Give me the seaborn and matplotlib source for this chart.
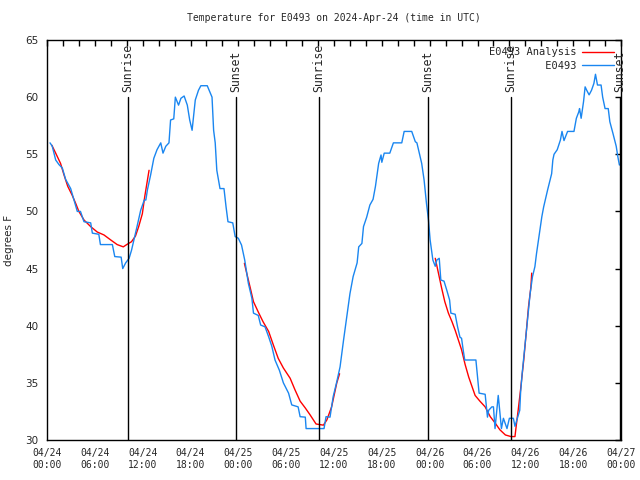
import pandas as pd
import matplotlib
matplotlib.use("Agg")
import matplotlib.pyplot as plt
import matplotlib.dates as mdates
from matplotlib.lines import Line2D
import seaborn as sns

# observed temperature, hours after 2024-04-24 00:00 UTC
obs_hours = [0.38, 0.66, 1.09, 1.5, 1.92, 2.34, 2.97, 3.39, 3.8, 4.2, 4.64, 5.48, 5.69, 6.5, 6.7,
             8.2, 8.5, 9.3, 9.5, 9.87, 10.3, 10.6, 10.9, 11.3, 11.75, 12.2, 12.4, 12.6, 13.0, 13.4,
             13.8, 14.27, 14.55, 14.9, 15.3, 15.5, 15.9, 16.1, 16.5, 16.8, 17.2, 17.6, 17.9, 18.2,
             18.6, 19.0, 19.3, 20.1, 20.7, 20.9, 21.1, 21.3, 21.7, 22.2, 22.46, 22.7, 23.3, 23.6,
             24.0, 24.4, 24.8, 25.26, 25.7, 25.9, 26.5, 26.8, 27.35, 27.8, 28.2, 28.6, 29.15, 29.65,
             30.3, 30.7, 31.5, 31.75, 32.4, 32.5, 34.75, 35.0, 35.5, 35.9, 36.35, 36.76, 37.2, 37.6,
             38.0, 38.4, 38.9, 39.1, 39.5, 39.7, 40.1, 40.5, 40.9, 41.2, 41.6, 41.9, 42.0, 42.3,
             43.0, 43.45, 44.5, 44.8, 45.75, 46.2, 46.4, 46.7, 47.0, 47.3, 47.6, 47.85, 48.06, 48.4,
             48.7, 48.9, 49.2, 49.4, 49.8, 50.15, 50.5, 50.66, 51.2, 51.5, 51.8, 52.0, 52.2, 52.4,
             53.8, 54.0, 54.2, 54.96, 55.25, 55.4, 55.8, 56.0, 56.2, 56.4, 56.6, 56.7, 57.0, 57.25,
             57.7, 58.0, 58.5, 58.7, 59.06, 59.3, 59.4, 59.6, 59.85, 60.1, 60.4, 60.6, 60.9, 61.2,
             61.4, 61.65, 61.85, 62.07, 62.3, 62.5, 62.8, 63.1, 63.3, 63.45, 63.6, 64.0, 64.4, 64.6,
             64.85, 65.3, 66.1, 66.4, 66.7, 66.8, 67.0, 67.3, 67.5, 67.7, 68.0, 68.3, 68.6, 68.8,
             69.05, 69.5, 69.7, 70.0, 70.4, 70.6, 71.0, 71.4, 71.6, 71.8]
obs_temps = [56.0, 55.7, 54.5, 54.1, 53.8, 52.8, 52.0, 51.0, 50.0, 50.0, 49.1, 49.0, 48.1, 48.0, 47.1,
             47.1, 46.05, 46.0, 45.0, 45.5, 45.9, 46.6, 47.5, 48.7, 50.1, 51.0, 51.0, 51.9, 53.2, 54.65,
             55.4, 56.0, 55.1, 55.7, 56.0, 58.0, 58.1, 60.0, 59.3, 59.9, 60.1, 59.3, 58.0, 57.1,
             59.75, 60.6, 61.0, 61.0, 60.0, 57.1, 56.0, 53.6, 52.0, 52.0, 50.4, 49.1, 49.0, 47.8,
             47.65, 47.06, 45.75, 43.7, 42.4, 41.1, 40.9, 40.06, 39.9, 39.04, 38.2, 37.0, 36.1, 35.0,
             34.1, 33.07, 32.9, 32.04, 32.0, 31.0, 31.0, 32.04, 32.0, 33.8, 35.1, 36.4, 38.75, 40.8,
             42.8, 44.3, 45.5, 46.9, 47.2, 48.67, 49.5, 50.56, 51.06, 52.2, 54.2, 54.94, 54.3, 55.1,
             55.1, 56.0, 56.0, 57.0, 57.0, 56.1, 56.0, 55.1, 54.2, 52.75, 50.7, 49.25, 47.5, 45.75,
             45.2, 45.75, 45.9, 44.0, 43.9, 43.1, 42.25, 41.1, 41.0, 39.9, 39.0, 38.9, 37.9, 37.0,
             37.0, 35.5, 34.1, 34.0, 32.0, 32.6, 32.9, 32.9, 31.0, 32.5, 33.9, 33.2, 31.0, 31.9,
             31.0, 31.9, 31.9, 31.2, 32.04, 32.6, 34.1, 35.8, 37.6, 39.3, 41.4, 42.8, 44.3, 45.17,
             46.3, 47.5, 48.5, 49.54, 50.4, 51.0, 51.9, 52.75, 53.3, 54.5, 55.0, 55.4, 56.25, 57.0,
             56.2, 57.0, 57.0, 58.15, 58.7, 59.0, 58.15, 59.6, 60.9, 60.6, 60.2, 60.6, 61.2, 62.0,
             61.06, 61.06, 60.0, 59.0, 59.0, 57.85, 56.8, 55.7, 54.8, 54.06]

# analysis curve, three separate pieces
ana1_hours = [0.6, 1.09, 1.7, 2.13, 2.6, 3.17, 3.6, 4.0, 4.64, 5.48, 6.3, 7.15, 8.0, 8.8, 9.57,
              10.0, 10.6, 11.1, 11.5, 11.96, 12.26, 12.6, 12.8]
ana1_temps = [55.8, 55.1, 54.2, 53.2, 52.2, 51.4, 50.7, 50.0, 49.25, 48.67, 48.2, 47.94, 47.5, 47.1, 46.9,
              47.1, 47.35, 47.85, 48.67, 49.8, 51.3, 52.75, 53.6]
ana2_hours = [24.76, 25.05, 25.5, 25.9, 26.5, 27.1, 27.8, 28.4, 29.0, 29.65, 30.5, 31.1, 31.75, 32.4,
              33.0, 33.75, 34.67, 35.1, 35.7, 36.35, 36.7]
ana2_temps = [45.46, 44.6, 43.3, 42.1, 41.2, 40.35, 39.5, 38.3, 37.15, 36.3, 35.4, 34.4, 33.4, 32.8,
              32.2, 31.4, 31.3, 31.75, 32.9, 35.0, 35.8]
ana3_hours = [48.7, 49.1, 49.5, 49.9, 50.35, 50.8, 51.2, 51.6, 52.0, 52.45, 52.9, 53.3, 53.7, 54.3,
              54.96, 55.6, 56.2, 56.8, 57.5, 58.2, 58.7, 58.85, 59.1, 59.4, 59.8, 60.1, 60.4, 60.7, 60.8]
ana3_temps = [45.9, 44.6, 43.3, 42.1, 41.1, 40.35, 39.6, 38.75, 37.9, 36.6, 35.5, 34.7, 33.9, 33.4,
              32.9, 32.04, 31.5, 30.9, 30.44, 30.3, 30.3, 31.2, 32.6, 34.4, 37.0, 39.3, 41.67, 43.4, 44.6]

sun_hours = [10.16, 23.71, 34.12, 47.79, 58.2, 71.9]
sun_labels = ["Sunrise", "Sunset", "Sunrise", "Sunset", "Sunrise", "Sunset"]

start = pd.Timestamp("2024-04-24 00:00")
to_time = lambda h: start + pd.to_timedelta(h, unit="h")

obs = pd.DataFrame({"time": to_time(obs_hours), "temp": obs_temps})
ana = pd.concat([
    pd.DataFrame({"time": to_time(h), "temp": t, "seg": i})
    for i, (h, t) in enumerate([(ana1_hours, ana1_temps), (ana2_hours, ana2_temps), (ana3_hours, ana3_temps)])
])

sns.set_style("white")
plt.rcParams["font.family"] = ["DejaVu Sans Mono"]
mono = "DejaVu Sans Mono"
blue = "#1a86f0"
red = "#ff0000"

fig = plt.figure(figsize=(6.4, 4.8), dpi=100)
ax = fig.add_axes([47 / 640, 40 / 480, 574 / 640, 400 / 480])

sns.lineplot(data=ana, x="time", y="temp", units="seg", estimator=None, color=red, lw=1, ax=ax)
sns.lineplot(data=obs, x="time", y="temp", color=blue, lw=1, ax=ax)

for h, lab in zip(sun_hours, sun_labels):
    t = to_time(h)
    ax.plot([t, t], [30, 60], color="black", lw=1)
    ax.text(t, 60.45, lab, rotation=90, ha="center", va="bottom", fontsize=8.3, family=mono)

ax.set_xlim(start, to_time(72))
ax.set_ylim(30, 65)
ax.set_yticks(range(30, 66, 5))
ax.xaxis.set_major_locator(mdates.HourLocator(byhour=[0, 6, 12, 18]))
ax.xaxis.set_minor_locator(mdates.HourLocator(interval=2))
ax.xaxis.set_major_formatter(mdates.DateFormatter("%m/%d\n%H:%M"))
ax.tick_params(which="both", direction="in", top=True, right=True, length=4, width=1, color="black")
ax.tick_params(axis="x", labelsize=7, pad=6)
ax.tick_params(axis="y", labelsize=7.5, pad=6)
for t in ax.get_yticklabels():
    t.set_family("DejaVu Sans")
for s in ax.spines.values():
    s.set_color("black")
    s.set_linewidth(1)

ax.set_xlabel("")
ax.set_ylabel("degrees F", fontsize=7.5, family="DejaVu Sans", labelpad=8)
ax.set_title("Temperature for E0493 on 2024-Apr-24 (time in UTC)", fontsize=7, family=mono, pad=14)

handles = [Line2D([], [], color=red, lw=1), Line2D([], [], color=blue, lw=1)]
labels = ["E0493 Analysis", "E0493".rjust(14)]
ax.legend(handles, labels, loc="upper right", frameon=False, markerfirst=False,
          prop={"family": mono, "size": 7.5}, handlelength=3.0, handletextpad=0.6,
          labelspacing=0.35, borderaxespad=0.3)

fig.savefig("out.png", dpi=100)
